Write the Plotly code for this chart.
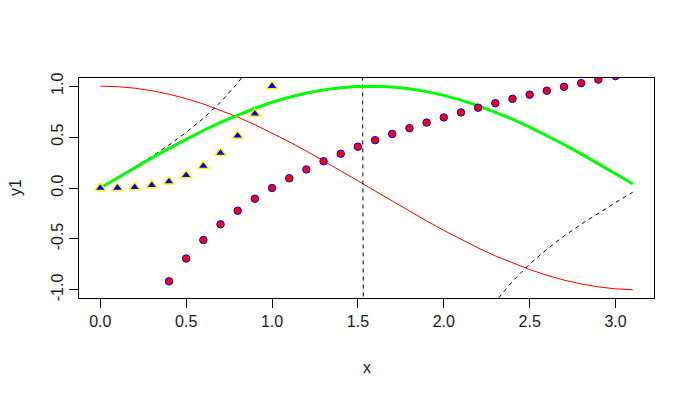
import plotly.graph_objects as go

x = [0.0, 0.1, 0.2, 0.3, 0.4, 0.5, 0.6, 0.7, 0.8, 0.9, 1.0, 1.1, 1.2, 1.3, 1.4, 1.5,
     1.6, 1.7, 1.8, 1.9, 2.0, 2.1, 2.2, 2.3, 2.4, 2.5, 2.6, 2.7, 2.8, 2.9, 3.0, 3.1]

y_sin = [0.0, 0.0998, 0.1987, 0.2955, 0.3894, 0.4794, 0.5646, 0.6442, 0.7174, 0.7833,
         0.8415, 0.8912, 0.9320, 0.9636, 0.9854, 0.9975, 0.9996, 0.9917, 0.9738, 0.9463,
         0.9093, 0.8632, 0.8085, 0.7457, 0.6755, 0.5985, 0.5155, 0.4274, 0.3350, 0.2392,
         0.1411, 0.0416]

y_cos = [1.0, 0.9950, 0.9801, 0.9553, 0.9211, 0.8776, 0.8253, 0.7648, 0.6967, 0.6216,
         0.5403, 0.4536, 0.3624, 0.2675, 0.1700, 0.0707, -0.0292, -0.1288, -0.2272, -0.3233,
         -0.4161, -0.5048, -0.5885, -0.6663, -0.7374, -0.8011, -0.8569, -0.9041, -0.9422,
         -0.9710, -0.9900, -0.9991]

y_tan = [0.0, 0.1003, 0.2027, 0.3093, 0.4228, 0.5463, 0.6841, 0.8423, 1.0296, 1.2602,
         1.5574, 1.9648, 2.5722, 3.6021, 5.7979, 14.1014, -34.2325, -7.6966, -4.2863,
         -2.9271, -2.1850, -1.7098, -1.3738, -1.1192, -0.9160, -0.7470, -0.6016, -0.4727,
         -0.3555, -0.2464, -0.1425, -0.0416]

x_log = x[1:]
y_log = [-2.3026, -1.6094, -1.2040, -0.9163, -0.6931, -0.5108, -0.3567, -0.2231, -0.1054,
         0.0, 0.0953, 0.1823, 0.2624, 0.3365, 0.4055, 0.4700, 0.5306, 0.5878, 0.6419,
         0.6931, 0.7419, 0.7885, 0.8329, 0.8755, 0.9163, 0.9555, 0.9933, 1.0296, 1.0647,
         1.0986, 1.1314]

x_cube = x[:12]
y_cube = [0.0, 0.001, 0.008, 0.027, 0.064, 0.125, 0.216, 0.343, 0.512, 0.729, 1.0, 1.331]

x_ticks = [0.0, 0.5, 1.0, 1.5, 2.0, 2.5, 3.0]
x_ticklabels = ["0.0", "0.5", "1.0", "1.5", "2.0", "2.5", "3.0"]
y_ticks = [-1.0, -0.5, 0.0, 0.5, 1.0]
y_ticklabels = ["-1.0", "-0.5", "0.0", "0.5", "1.0"]

FONT = "Liberation Sans, Arial, sans-serif"
TXT = "#1a1a1a"

fig = go.Figure()
fig.add_trace(go.Scatter(x=x, y=y_cos, mode="lines", line=dict(color="red", width=1)))
fig.add_trace(go.Scatter(x=x, y=y_tan, mode="lines",
                         line=dict(color="black", width=1, dash="4px,4px")))
fig.add_trace(go.Scatter(x=x, y=y_sin, mode="lines", line=dict(color="#00FF00", width=3)))
fig.add_trace(go.Scatter(x=x_log, y=y_log, mode="markers",
                         marker=dict(symbol="circle", size=7.5, color="red",
                                     line=dict(color="blue", width=1))))
fig.add_trace(go.Scatter(x=x_cube, y=y_cube, mode="markers",
                         marker=dict(symbol="triangle-up", size=10, color="blue",
                                     line=dict(color="yellow", width=1.5))))

fig.update_layout(
    width=694, height=396,
    margin=dict(l=79, r=40, t=78, b=98),
    paper_bgcolor="white", plot_bgcolor="white",
    showlegend=False,
    font=dict(family=FONT, size=16, color="black"),
    xaxis=dict(range=[-0.124, 3.224], tickvals=x_ticks, ticktext=x_ticklabels,
               showgrid=False, zeroline=False, showline=True, linecolor="black",
               linewidth=1, mirror=True, ticks="outside", ticklen=9, tickcolor="black",
               tickfont=dict(family=FONT, size=16, color=TXT)),
    yaxis=dict(range=[-1.08, 1.08], tickvals=y_ticks, ticktext=y_ticklabels,
               showgrid=False, zeroline=False, showline=True, linecolor="black",
               linewidth=1, mirror=True, ticks="outside", ticklen=9, tickcolor="black",
               tickangle=-90,
               tickfont=dict(family=FONT, size=16, color=TXT)),
    annotations=[
        dict(text="x", xref="paper", yref="paper", x=0.5, y=0, yshift=-69,
             showarrow=False, xanchor="center", yanchor="middle",
             font=dict(family=FONT, size=16, color=TXT)),
        dict(text="y1", xref="paper", yref="paper", x=0, y=0.5, xshift=-64,
             showarrow=False, xanchor="center", yanchor="middle", textangle=-90,
             font=dict(family=FONT, size=16, color=TXT)),
    ],
)

fig.write_html("out.html", config={"displayModeBar": False},
               post_script="document.body.style.margin='0';document.body.style.padding='0';")
